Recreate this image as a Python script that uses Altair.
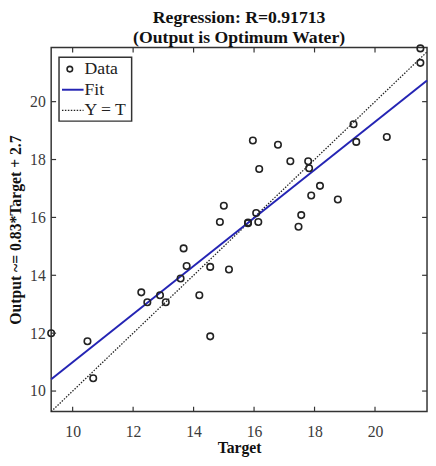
import altair as alt
import pandas as pd

# ---- data ----
target = [9.29, 10.49, 10.68, 12.27, 12.47, 12.89, 13.08, 13.57, 13.67, 13.77,
          14.19, 14.55, 14.55, 15.17, 14.87, 15.00, 15.80, 15.80, 15.96, 16.07,
          16.14, 16.17, 16.79, 17.20, 17.47, 17.56, 17.79, 17.82, 17.89, 18.18,
          18.77, 19.29, 19.38, 20.39, 21.50, 21.50]
output = [12.00, 11.72, 10.44, 13.41, 13.07, 13.31, 13.07, 13.89, 14.93, 14.32,
          13.31, 14.29, 11.89, 14.20, 15.84, 16.40, 15.82, 15.80, 18.66, 16.15,
          15.84, 17.67, 18.51, 17.94, 15.68, 16.08, 17.94, 17.70, 16.76, 17.09,
          16.62, 19.22, 18.61, 18.78, 21.84, 21.34]

fit_x = [9.29, 21.72]
fit_y = [10.41, 20.73]
ident_x = [9.29, 21.72]
ident_y = [9.29, 21.72]

x_ticks = [10, 12, 14, 16, 18, 20]
y_ticks = [10, 12, 14, 16, 18, 20]

legend_labels = ["Data", "Fit", "Y = T"]

title_lines = ["Regression: R=0.91713", "(Output is Optimum Water)"]
x_title = "Target"
y_title = "Output ~= 0.83*Target + 2.7"

# ---- layout ----
W, H = 383, 371
XDOM = [9.29, 21.72]
YDOM = [9.29, 21.87]
FONT = "Liberation Serif"
AX = "#333333"
TK = 5

xs = alt.Scale(domain=XDOM, nice=False, zero=False)
ys = alt.Scale(domain=YDOM, nice=False, zero=False)

df = pd.DataFrame({"x": target, "y": output})
fit_df = pd.DataFrame({"x": fit_x, "y": fit_y})
id_df = pd.DataFrame({"x": ident_x, "y": ident_y})
xt_df = pd.DataFrame({"v": x_ticks})
yt_df = pd.DataFrame({"v": y_ticks})
one = pd.DataFrame({"a": [0]})

xaxis = alt.Axis(values=x_ticks, title=x_title, format="d")
yaxis = alt.Axis(values=y_ticks, title=y_title, format="d")

def X(f):
    return alt.X(f, scale=xs, axis=xaxis)

def Y(f):
    return alt.Y(f, scale=ys, axis=yaxis)

ident = alt.Chart(id_df).mark_line(color="#222222", strokeWidth=1.3, strokeDash=[1.5, 1.5]).encode(
    x=X("x:Q"), y=Y("y:Q"))
fit = alt.Chart(fit_df).mark_line(color="#2424b4", strokeWidth=2).encode(
    x=X("x:Q"), y=Y("y:Q"))
pts = alt.Chart(df).mark_point(shape="circle", filled=False, size=44, strokeWidth=1.6,
                               color="#222222", opacity=1).encode(
    x=X("x:Q"), y=Y("y:Q"))

tick_style = dict(color=AX, strokeWidth=1.2)
bt = alt.Chart(xt_df).mark_rule(**tick_style).encode(
    x=X("v:Q"), y=alt.value(H), y2=alt.value(H - TK))
tt = alt.Chart(xt_df).mark_rule(**tick_style).encode(
    x=X("v:Q"), y=alt.value(0), y2=alt.value(TK))
lt = alt.Chart(yt_df).mark_rule(**tick_style).encode(
    y=Y("v:Q"), x=alt.value(0), x2=alt.value(TK))
rt = alt.Chart(yt_df).mark_rule(**tick_style).encode(
    y=Y("v:Q"), x=alt.value(W), x2=alt.value(W - TK))

# ---- legend box (drawn in pixel space) ----
LX0, LX1, LY0, LY1 = 8, 82, 10, 75
rows = [22, 43, 64]
box = alt.Chart(one).mark_rect(fill="white", stroke=AX, strokeWidth=1.5).encode(
    x=alt.value(LX0), x2=alt.value(LX1), y=alt.value(LY0), y2=alt.value(LY1))
leg_txt = alt.Chart(pd.DataFrame({"t": legend_labels, "py": rows})).mark_text(
    align="left", baseline="middle", font=FONT, fontSize=18, color="#222222").encode(
    x=alt.value(34), y=alt.Y("py:Q", scale=None), text="t:N")
leg_pt = alt.Chart(one).mark_point(shape="circle", filled=False, size=32, strokeWidth=1.6,
                                   color="#222222", opacity=1).encode(
    x=alt.value(19), y=alt.value(rows[0]))
leg_fit = alt.Chart(one).mark_rule(color="#2424b4", strokeWidth=2).encode(
    x=alt.value(11), x2=alt.value(33), y=alt.value(rows[1]))
leg_id = alt.Chart(one).mark_rule(color="#222222", strokeWidth=1.3, strokeDash=[1.5, 1.5]).encode(
    x=alt.value(11), x2=alt.value(33), y=alt.value(rows[2]))

chart = alt.layer(ident, fit, pts, bt, tt, lt, rt, box, leg_txt, leg_pt, leg_fit, leg_id).properties(
    width=W, height=H,
    title=alt.TitleParams(text=title_lines, font=FONT, fontSize=18, fontWeight="bold",
                          anchor="middle", offset=-5, color="#111111", lineHeight=20),
    autosize=alt.AutoSizeParams(type="none"),
    padding={"left": 44, "top": 36, "right": 1, "bottom": 43},
).configure_view(stroke=AX, strokeWidth=1.5).configure_axis(
    grid=False, ticks=False, domain=False,
    labelFont=FONT, labelFontSize=16, labelColor="#3a3a3a",
    titleFont=FONT, titleFontSize=16, titleFontWeight="bold", titleColor="#111111",
).configure_axisX(labelPadding=12, titlePadding=1).configure_axisY(labelPadding=6, titlePadding=6)

chart.save("out.html", embed_options={"renderer": "svg", "actions": False})
